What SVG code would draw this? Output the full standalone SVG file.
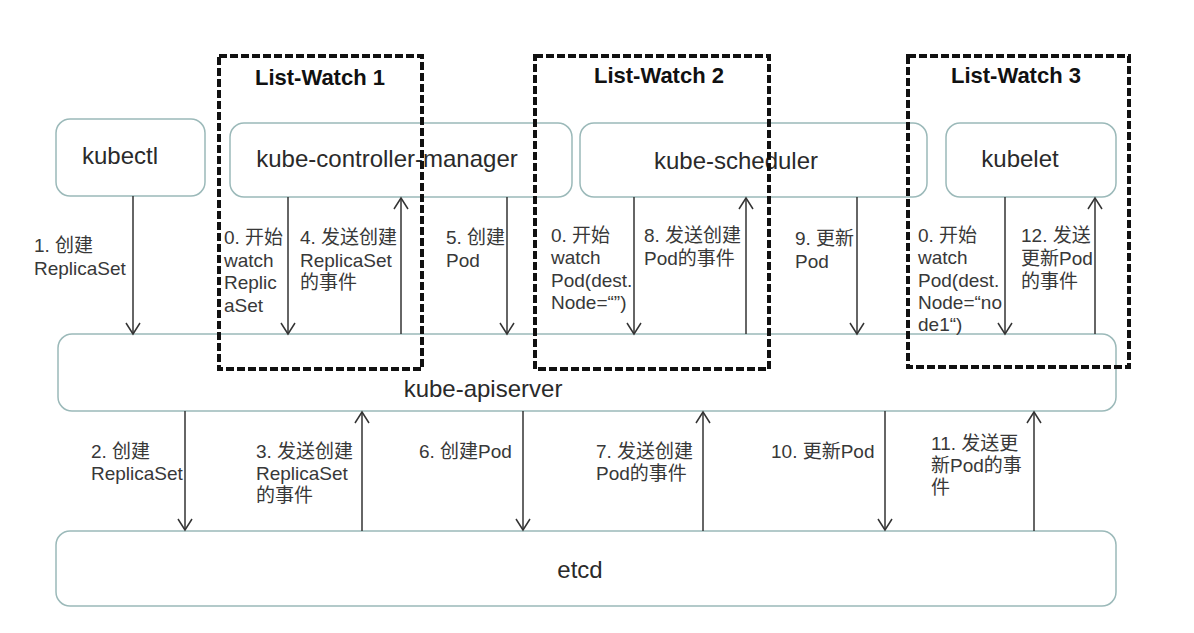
<svg xmlns="http://www.w3.org/2000/svg" width="1194" height="633" viewBox="0 0 1194 633">
<defs>
<style>
.node{fill:none;stroke:#9bb9b9;stroke-width:1.5}
.lw{fill:none;stroke:#111;stroke-width:4;stroke-dasharray:8 3}
.arr{stroke:#333;stroke-width:1.5;fill:none;marker-end:url(#ah)}
text{font-family:"Liberation Sans","Noto Sans CJK SC",sans-serif;fill:#383838}
.lbl{font-size:19px}
.ntxt{font-size:24px;text-anchor:middle;fill:#2a2a2a}
.title{font-weight:bold;font-size:22px;fill:#111;text-anchor:middle}
</style>
<marker id="ah" markerUnits="userSpaceOnUse" markerWidth="16" markerHeight="18" viewBox="0 0 16 18" refX="12" refY="9" orient="auto">
<path d="M1,2 L12,9 L1,16" fill="none" stroke="#333" stroke-width="1.5"/>
</marker>
</defs>
<rect width="1194" height="633" fill="#fff"/>

<g id="kubectl"><rect class="node" x="56" y="119" width="149" height="77" rx="14"/><text class="ntxt" x="120" y="164">kubectl</text></g>
<g id="kube-controller-manager"><rect class="node" x="230" y="123" width="342" height="74" rx="14"/><text class="ntxt" x="387" y="167">kube-controller-manager</text></g>
<g id="kube-scheduler"><rect class="node" x="580" y="123" width="347" height="74" rx="14"/><text class="ntxt" x="736" y="169">kube-scheduler</text></g>
<g id="kubelet"><rect class="node" x="946" y="123" width="170" height="74" rx="14"/><text class="ntxt" x="1020" y="167">kubelet</text></g>
<g id="kube-apiserver"><rect class="node" x="58" y="334" width="1058" height="77" rx="14"/><text class="ntxt" x="483" y="397">kube-apiserver</text></g>
<g id="etcd"><rect class="node" x="56" y="531" width="1060" height="75" rx="14"/><text class="ntxt" x="580" y="578">etcd</text></g>

<g id="list-watch-1"><rect class="lw" x="219" y="56" width="203" height="313"/><text class="title" x="320" y="85">List-Watch 1</text></g>
<g id="list-watch-2"><rect class="lw" x="535" y="56" width="234" height="313"/><text class="title" x="659" y="83">List-Watch 2</text></g>
<g id="list-watch-3"><rect class="lw" x="908" y="56" width="221" height="311"/><text class="title" x="1016" y="83">List-Watch 3</text></g>

<g id="connectors">
<line class="arr" x1="133" y1="196" x2="133" y2="334"/>
<line class="arr" x1="288" y1="197" x2="288" y2="334"/>
<line class="arr" x1="401" y1="334" x2="401" y2="198"/>
<line class="arr" x1="507" y1="197" x2="507" y2="334"/>
<line class="arr" x1="634" y1="197" x2="634" y2="334"/>
<line class="arr" x1="746" y1="334" x2="746" y2="198"/>
<line class="arr" x1="857" y1="197" x2="857" y2="334"/>
<line class="arr" x1="1005" y1="197" x2="1005" y2="334"/>
<line class="arr" x1="1095" y1="334" x2="1095" y2="198"/>
<line class="arr" x1="185" y1="411" x2="185" y2="530"/>
<line class="arr" x1="362" y1="531" x2="362" y2="412"/>
<line class="arr" x1="523" y1="411" x2="523" y2="530"/>
<line class="arr" x1="703" y1="531" x2="703" y2="412"/>
<line class="arr" x1="885" y1="411" x2="885" y2="530"/>
<line class="arr" x1="1034" y1="531" x2="1034" y2="412"/>
</g>

<g id="labels">
<text class="lbl"><tspan x="34" y="252">1. 创建</tspan><tspan x="34" y="275">ReplicaSet</tspan></text>
<text class="lbl"><tspan x="224" y="244">0. 开始</tspan><tspan x="224" y="267">watch</tspan><tspan x="224" y="289">Replic</tspan><tspan x="224" y="312">aSet</tspan></text>
<text class="lbl"><tspan x="300" y="244">4. 发送创建</tspan><tspan x="300" y="267">ReplicaSet</tspan><tspan x="300" y="289">的事件</tspan></text>
<text class="lbl"><tspan x="446" y="244">5. 创建</tspan><tspan x="446" y="267">Pod</tspan></text>
<text class="lbl"><tspan x="551" y="242">0. 开始</tspan><tspan x="551" y="264">watch</tspan><tspan x="551" y="287">Pod(dest.</tspan><tspan x="551" y="309">Node=“”)</tspan></text>
<text class="lbl"><tspan x="644" y="242">8. 发送创建</tspan><tspan x="644" y="265">Pod的事件</tspan></text>
<text class="lbl"><tspan x="795" y="245">9. 更新</tspan><tspan x="795" y="268">Pod</tspan></text>
<text class="lbl"><tspan x="918" y="242">0. 开始</tspan><tspan x="918" y="264">watch</tspan><tspan x="918" y="287">Pod(dest.</tspan><tspan x="918" y="309">Node=“no</tspan><tspan x="918" y="331">de1“)</tspan></text>
<text class="lbl"><tspan x="1021" y="242">12. 发送</tspan><tspan x="1021" y="265">更新Pod</tspan><tspan x="1021" y="288">的事件</tspan></text>
<text class="lbl"><tspan x="91" y="458">2. 创建</tspan><tspan x="91" y="480">ReplicaSet</tspan></text>
<text class="lbl"><tspan x="256" y="458">3. 发送创建</tspan><tspan x="256" y="480">ReplicaSet</tspan><tspan x="256" y="502">的事件</tspan></text>
<text class="lbl"><tspan x="419" y="458">6. 创建Pod</tspan></text>
<text class="lbl"><tspan x="596" y="458">7. 发送创建</tspan><tspan x="596" y="480">Pod的事件</tspan></text>
<text class="lbl"><tspan x="771" y="458">10. 更新Pod</tspan></text>
<text class="lbl"><tspan x="931" y="450">11. 发送更</tspan><tspan x="931" y="472">新Pod的事</tspan><tspan x="931" y="494">件</tspan></text>
</g>
</svg>
